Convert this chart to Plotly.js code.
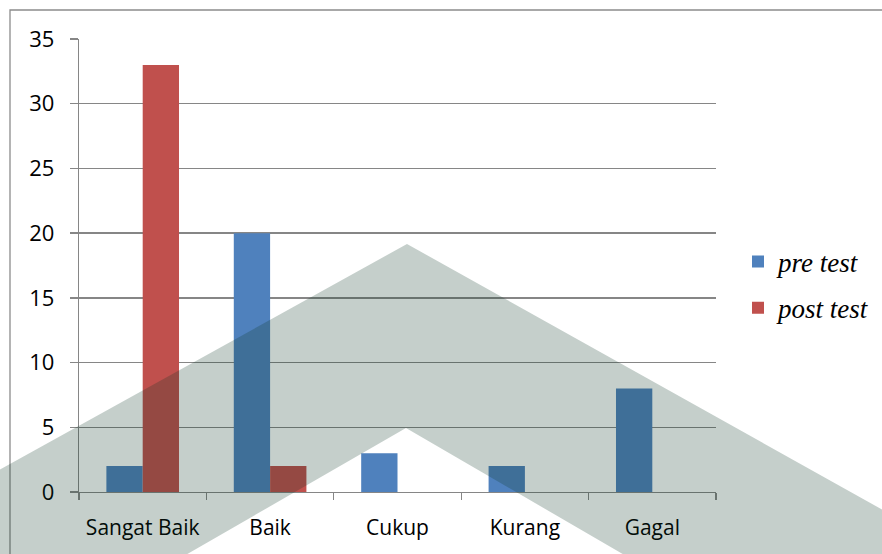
<!DOCTYPE html>
<html>
<head>
<meta charset="utf-8">
<script src="https://cdn.plot.ly/plotly-3.0.1.min.js"></script>
<style>html,body{margin:0;padding:0;background:#fff;}#chart{width:882px;height:554px;}</style>
</head>
<body>
<div id="chart"></div>
<script>
var categories = ["Sangat Baik", "Baik", "Cukup", "Kurang", "Gagal"];
var preTest = [2, 20, 3, 2, 8];
var postTest = [33, 2, 0, 0, 0];
var yTicks = [0, 5, 10, 15, 20, 25, 30, 35];

var W = 882, H = 554;
var L = 79, R = 716, T = 39, B = 492;
function px(x) { return (x - L) / (R - L); }
function py(y) { return (B - y) / (B - T); }

var traces = [
  {type: "bar", name: "pre test", x: categories, y: preTest, marker: {color: "#4F81BD"}, legendgroup: "a"},
  {type: "bar", name: "post test", x: categories, y: postTest, marker: {color: "#C0504D"}, legendgroup: "b"}
];

var wm = [[-10, 475], [407, 244], [890, 514], [890, 560], [633, 560], [406, 428], [177, 560], [-10, 560]];
var path = wm.map(function (p, i) { return (i ? "L" : "M") + px(p[0]).toFixed(4) + "," + py(p[1]).toFixed(4); }).join(" ") + " Z";

var layout = {
  width: W, height: H,
  margin: {l: L, r: W - R, t: T, b: H - B, pad: 0, autoexpand: false},
  paper_bgcolor: "#ffffff", plot_bgcolor: "#ffffff",
  barmode: "group", bargap: 0.43, bargroupgap: 0,
  showlegend: true,
  font: {family: "'Open Sans', Lato, sans-serif", color: "#000000", size: 22},
  xaxis: {
    type: "category", range: [-0.5, 4.5], tickson: "boundaries", tickangle: 0,
    ticks: "outside", ticklen: 7, tickcolor: "#868686", tickwidth: 1.3,
    showline: true, linecolor: "#868686", linewidth: 1.3, showgrid: false,
    tickfont: {size: 21}, ticklabelstandoff: 16, fixedrange: true, automargin: false
  },
  yaxis: {
    range: [0, 35], tickvals: yTicks, ticktext: yTicks.map(String),
    ticks: "outside", ticklen: 8, tickcolor: "#868686", tickwidth: 1.3,
    showline: true, linecolor: "#868686", linewidth: 1.3,
    showgrid: true, gridcolor: "#868686", gridwidth: 1.3, zeroline: false,
    tickfont: {size: 22}, ticklabelstandoff: 11, fixedrange: true, automargin: false
  },
  legend: {
    x: px(738), y: py(285), xanchor: "left", yanchor: "middle",
    font: {family: "'Liberation Serif', 'Times New Roman', serif", size: 27, style: "italic"},
    traceorder: "grouped", tracegroupgap: 8, itemwidth: 30, bgcolor: "rgba(0,0,0,0)"
  },
  shapes: [
    {type: "rect", xref: "paper", yref: "paper", x0: px(10), x1: px(900), y0: py(600), y1: py(10),
      line: {color: "#8c8c8c", width: 1.3}, fillcolor: "rgba(0,0,0,0)", layer: "below"},
    {type: "path", xref: "paper", yref: "paper", path: path,
      fillcolor: "rgb(13,54,37)", opacity: 0.24, line: {width: 0}, layer: "above"}
  ]
};

Plotly.newPlot("chart", traces, layout, {displayModeBar: false, staticPlot: true});
</script>
</body>
</html>
